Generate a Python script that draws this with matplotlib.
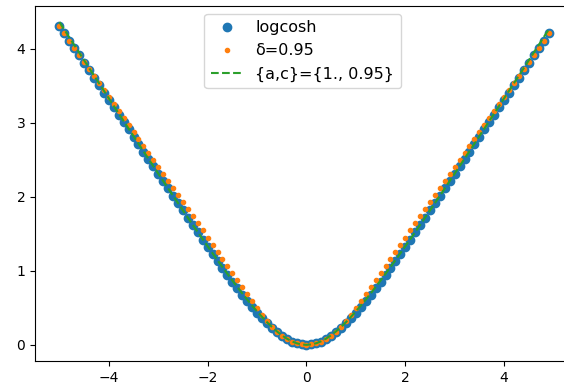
import matplotlib
matplotlib.use("Agg")
import matplotlib.pyplot as plt

x = [-5.0, -4.9, -4.8, -4.7, -4.6, -4.5, -4.4, -4.3, -4.2, -4.1,
     -4.0, -3.9, -3.8, -3.7, -3.6, -3.5, -3.4, -3.3, -3.2, -3.1,
     -3.0, -2.9, -2.8, -2.7, -2.6, -2.5, -2.4, -2.3, -2.2, -2.1,
     -2.0, -1.9, -1.8, -1.7, -1.6, -1.5, -1.4, -1.3, -1.2, -1.1,
     -1.0, -0.9, -0.8, -0.7, -0.6, -0.5, -0.4, -0.3, -0.2, -0.1,
     0.0, 0.1, 0.2, 0.3, 0.4, 0.5, 0.6, 0.7, 0.8, 0.9,
     1.0, 1.1, 1.2, 1.3, 1.4, 1.5, 1.6, 1.7, 1.8, 1.9,
     2.0, 2.1, 2.2, 2.3, 2.4, 2.5, 2.6, 2.7, 2.8, 2.9,
     3.0, 3.1, 3.2, 3.3, 3.4, 3.5, 3.6, 3.7, 3.8, 3.9,
     4.0, 4.1, 4.2, 4.3, 4.4, 4.5, 4.6, 4.7, 4.8, 4.9]

logcosh = [4.307, 4.207, 4.107, 4.007, 3.907, 3.807, 3.707, 3.607, 3.507, 3.407,
           3.307, 3.207, 3.107, 3.007, 2.908, 2.808, 2.708, 2.608, 2.509, 2.409,
           2.309, 2.210, 2.111, 2.011, 1.912, 1.814, 1.715, 1.617, 1.519, 1.422,
           1.325, 1.229, 1.134, 1.040, 0.947, 0.855, 0.766, 0.679, 0.594, 0.512,
           0.434, 0.360, 0.291, 0.227, 0.170, 0.120, 0.078, 0.044, 0.020, 0.005,
           0.000, 0.005, 0.020, 0.044, 0.078, 0.120, 0.170, 0.227, 0.291, 0.360,
           0.434, 0.512, 0.594, 0.679, 0.766, 0.855, 0.947, 1.040, 1.134, 1.229,
           1.325, 1.422, 1.519, 1.617, 1.715, 1.814, 1.912, 2.011, 2.111, 2.210,
           2.309, 2.409, 2.509, 2.608, 2.708, 2.808, 2.908, 3.007, 3.107, 3.207,
           3.307, 3.407, 3.507, 3.607, 3.707, 3.807, 3.907, 4.007, 4.107, 4.207]

huber = [4.299, 4.204, 4.109, 4.014, 3.919, 3.824, 3.729, 3.634, 3.539, 3.444,
         3.349, 3.254, 3.159, 3.064, 2.969, 2.874, 2.779, 2.684, 2.589, 2.494,
         2.399, 2.304, 2.209, 2.114, 2.019, 1.924, 1.829, 1.734, 1.639, 1.544,
         1.449, 1.354, 1.259, 1.164, 1.069, 0.974, 0.879, 0.784, 0.689, 0.594,
         0.499, 0.405, 0.320, 0.245, 0.180, 0.125, 0.080, 0.045, 0.020, 0.005,
         0.000, 0.005, 0.020, 0.045, 0.080, 0.125, 0.180, 0.245, 0.320, 0.405,
         0.499, 0.594, 0.689, 0.784, 0.879, 0.974, 1.069, 1.164, 1.259, 1.354,
         1.449, 1.544, 1.639, 1.734, 1.829, 1.924, 2.019, 2.114, 2.209, 2.304,
         2.399, 2.494, 2.589, 2.684, 2.779, 2.874, 2.969, 3.064, 3.159, 3.254,
         3.349, 3.444, 3.539, 3.634, 3.729, 3.824, 3.919, 4.014, 4.109, 4.204]

general = [4.357, 4.254, 4.151, 4.047, 3.944, 3.841, 3.738, 3.635, 3.533, 3.430,
           3.328, 3.225, 3.123, 3.021, 2.919, 2.818, 2.716, 2.615, 2.514, 2.413,
           2.312, 2.212, 2.112, 2.013, 1.914, 1.815, 1.717, 1.619, 1.522, 1.426,
           1.331, 1.236, 1.142, 1.050, 0.959, 0.869, 0.781, 0.695, 0.611, 0.530,
           0.452, 0.378, 0.307, 0.242, 0.183, 0.130, 0.085, 0.049, 0.022, 0.006,
           0.000, 0.006, 0.022, 0.049, 0.085, 0.130, 0.183, 0.242, 0.307, 0.378,
           0.452, 0.530, 0.611, 0.695, 0.781, 0.869, 0.959, 1.050, 1.142, 1.236,
           1.331, 1.426, 1.522, 1.619, 1.717, 1.815, 1.914, 2.013, 2.112, 2.212,
           2.312, 2.413, 2.514, 2.615, 2.716, 2.818, 2.919, 3.021, 3.123, 3.225,
           3.328, 3.430, 3.533, 3.635, 3.738, 3.841, 3.944, 4.047, 4.151, 4.254]

labels = ["logcosh", "δ=0.95", "{a,c}={1., 0.95}"]

fig = plt.figure(figsize=(5.64, 3.85), dpi=100)
# the plot area runs past the right edge of the canvas
ax = fig.add_axes([35 / 564, 24 / 385, 565 / 564, 355 / 385])

ax.plot(x, logcosh, "o", color="C0", label=labels[0])
ax.plot(x, huber, ".", color="C1", label=labels[1])
ax.plot(x, general, "--", color="C2", label=labels[2])

ax.set_xlim(-5.495, 5.942)
ax.set_xticks([-4, -2, 0, 2, 4])
ax.set_yticks([0, 1, 2, 3, 4])
ax.legend(loc="upper center", bbox_to_anchor=(0.4735, 1.0), fontsize=11.5)

fig.savefig("out.png", dpi=100)
